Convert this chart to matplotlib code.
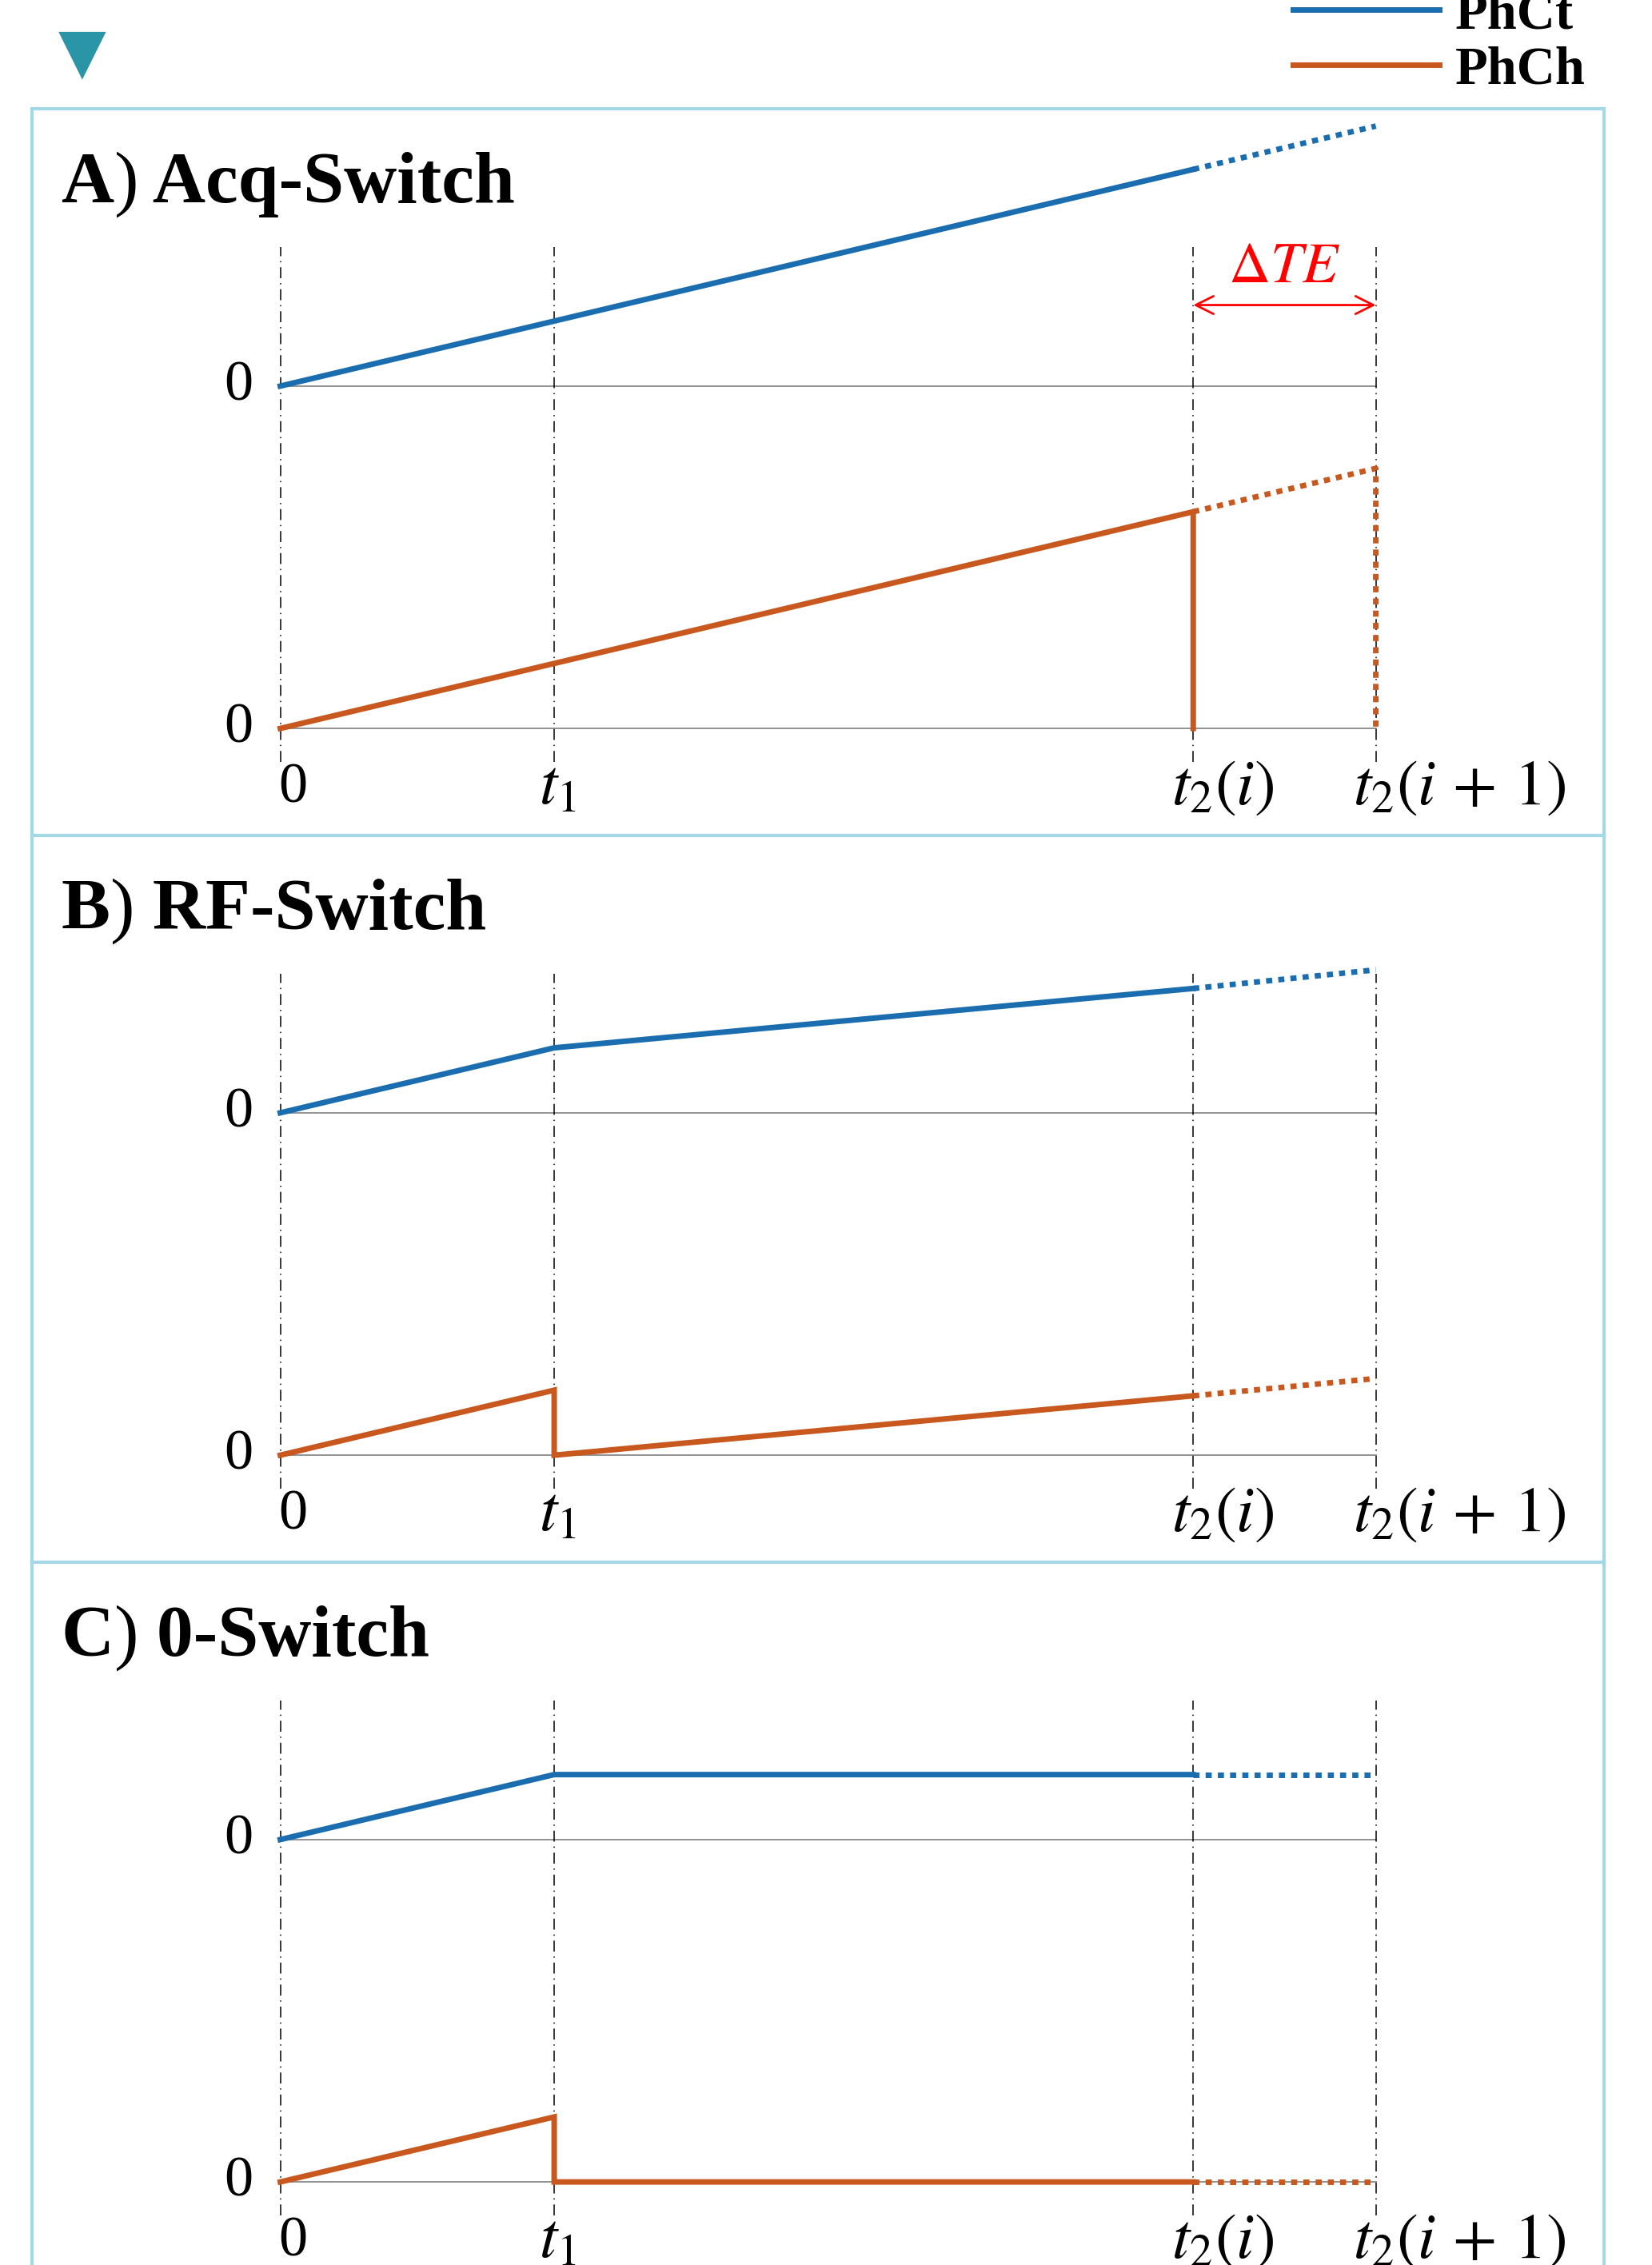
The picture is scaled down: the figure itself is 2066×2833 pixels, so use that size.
import matplotlib
matplotlib.use("Agg")
import matplotlib.pyplot as plt

plt.rcParams['mathtext.fontset'] = 'stix'
plt.rcParams['font.family'] = ['Liberation Serif', 'DejaVu Serif']

## data: time axis (0, t1, t2(i), t2(i+1)) and the two series per panel
t_ticks = [0, 1.5, 5, 6]
t_labels = ['0', r'$t_1$', r'$t_2(i)$', r'$t_2(i\,+\,1)$']
titles = ['A', 'B', 'C']
names = ['Acq-Switch', 'RF-Switch', '0-Switch']

# A) Acq-Switch
acq_ct_t,   acq_ct   = [0, 1.5, 5], [0, 1.5, 5]
acq_ct_dt,  acq_ct_d = [5, 6], [5, 6]
acq_ch_t,   acq_ch   = [0, 1.5, 5, 5], [0, 1.5, 5, 0]
acq_ch_dt,  acq_ch_d = [5, 6, 6], [5, 6, 0]
# B) RF-Switch
rf_ct_t,    rf_ct    = [0, 1.5, 5], [0, 1.5, 2.87]
rf_ct_dt,   rf_ct_d  = [5, 6], [2.87, 3.3]
rf_ch_t,    rf_ch    = [0, 1.5, 1.5, 5], [0, 1.5, 0, 1.37]
rf_ch_dt,   rf_ch_d  = [5, 6], [1.37, 1.77]
# C) 0-Switch
z_ct_t,     z_ct     = [0, 1.5, 5], [0, 1.5, 1.5]
z_ct_dt,    z_ct_d   = [5, 6], [1.5, 1.5]
z_ch_t,     z_ch     = [0, 1.5, 1.5, 5], [0, 1.5, 0, 0]
z_ch_dt,    z_ch_d   = [5, 6], [0, 0]

panels = [
    (acq_ct_t, acq_ct, acq_ct_dt, acq_ct_d, acq_ch_t, acq_ch, acq_ch_dt, acq_ch_d),
    (rf_ct_t, rf_ct, rf_ct_dt, rf_ct_d, rf_ch_t, rf_ch, rf_ch_dt, rf_ch_d),
    (z_ct_t, z_ct, z_ct_dt, z_ct_d, z_ch_t, z_ch, z_ch_dt, z_ch_d),
]

# styles
c_ct = '#1a6dae'
c_ch = '#c9581f'
c_box = '#a3d8e6'
off = 7.9          # vertical offset of the PhCt trace
lw = 5.0
dots = (0, (1.1, 1.1))
W, H = 2066, 2833

fig = plt.figure(figsize=(W/100, H/100), dpi=100)

for k, p in enumerate(panels):
    top = 136 + 909*k
    ax = fig.add_axes([40/W, 1 - (top + 909)/H, 1966/W, 909/H])
    ax.set_xlim(-1.36, 7.25)
    ax.set_ylim(-2.47, 14.3)
    ax.set_xticks([]); ax.set_yticks([])
    for s in ax.spines.values():
        s.set_color(c_box); s.set_linewidth(3)

    # zero lines
    for y0 in (0, off):
        ax.plot([t_ticks[0], t_ticks[-1]], [y0, y0], color='#8a8a8a', lw=1.3, zorder=1)
    # time marker lines
    for tt in t_ticks:
        ax.plot([tt, tt], [-0.77, 11.1], color='black', lw=1.1,
                linestyle=(0, (9, 4, 1, 4)), zorder=2)

    ct_t, ct, ct_dt, ct_d, ch_t, ch, ch_dt, ch_d = p
    l1, = ax.plot(ct_t, [v + off for v in ct], color=c_ct, lw=lw, zorder=3,
                  solid_joinstyle='miter', label='PhCt')
    ax.plot(ct_dt, [v + off for v in ct_d], color=c_ct, lw=lw, ls=dots, zorder=3)
    l2, = ax.plot(ch_t, ch, color=c_ch, lw=lw, zorder=3, solid_joinstyle='miter',
                  label='PhCh')
    ax.plot(ch_dt, ch_d, color=c_ch, lw=lw, ls=dots, zorder=3)

    # axis labels
    for y0 in (0, off):
        ax.text(-0.23, y0, '0', fontsize=52, ha='center', va='center')
    xoff = [0.07, 0.02, 0.16, 0.46]
    for tt, lab, dx in zip(t_ticks, t_labels, xoff):
        ax.text(tt + dx, -1.38, lab, fontsize=52 if lab == '0' else 58,
                ha='center', va='center')

    # panel title: bold letter, thin bracket, bold name
    ta = ax.text(-1.2, 12.55, titles[k], fontsize=66, fontweight='bold',
                 ha='left', va='center')
    tb = ax.annotate(')', xy=(1, 0), xycoords=ta, fontsize=66, ha='left', va='bottom')
    ax.annotate(' ' + names[k], xy=(1, 0), xycoords=tb, fontsize=66,
                fontweight='bold', ha='left', va='bottom')

    if k == 0:
        ax.annotate('', xy=(5.0, 9.77), xytext=(6.0, 9.77),
                    arrowprops=dict(arrowstyle='<->', color='red', lw=2,
                                    mutation_scale=40, shrinkA=0, shrinkB=0))
        ax.text(5.5, 10.62, r'$\Delta TE$', color='red', fontsize=52,
                ha='center', va='center')
        handles = [l1, l2]

fig.legend(handles, ['PhCt', 'PhCh'], loc='upper right',
           bbox_to_anchor=(1983/W, 1.004), frameon=False, borderpad=0,
           borderaxespad=0, handlelength=2.75, handletextpad=0.3,
           labelspacing=0.12, prop={'weight': 'bold', 'size': 48})

fig.text(103/W, 1 - 67/H, '▼', color='#2b95a8', fontsize=56,
         family='DejaVu Sans', ha='center', va='center')

fig.savefig('out.png', dpi=100)
